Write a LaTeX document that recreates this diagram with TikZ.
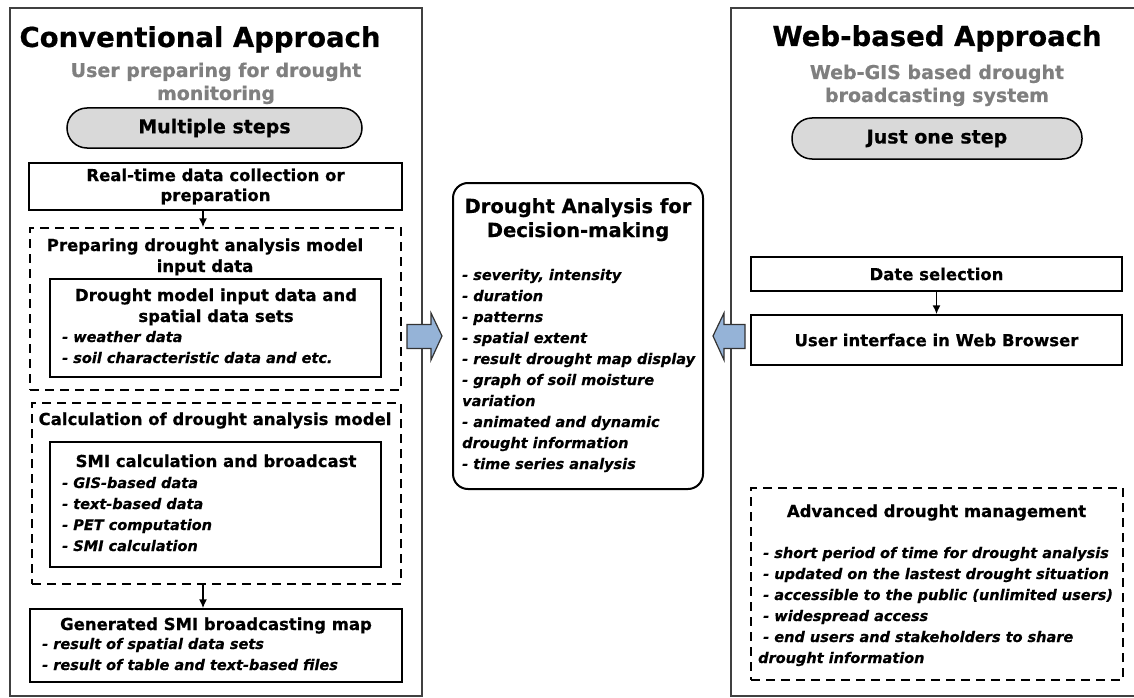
\documentclass[tikz,border=0pt]{standalone}
\usepackage{fontspec}
\setmainfont{DejaVu Sans}[BoldFeatures={FakeBold=0.6},BoldItalicFeatures={FakeBold=0.5}]
\usetikzlibrary{calc,arrows.meta,positioning}
\definecolor{subgray}{HTML}{7F7F7F}
\definecolor{pillgray}{HTML}{D9D9D9}
\definecolor{arrowblue}{HTML}{95B3D7}
\definecolor{framegray}{HTML}{404040}
\tikzset{
  panel/.style={draw=framegray, line width=1.3pt},
  box/.style={draw, line width=1.5pt, inner sep=0pt, font=\fontsize{16.5}{20}\selectfont\bfseries},
  dbox/.style={draw, line width=1.5pt, dash pattern=on 9pt off 6pt, inner sep=0pt},
  pill/.style={draw, line width=1.5pt, fill=pillgray, rounded corners=20pt, inner sep=0pt,
    font=\fontsize{19}{22}\selectfont\bfseries},
  midbox/.style={draw, line width=2pt, rounded corners=15pt, inner sep=0pt},
  ttl/.style={anchor=base, inner sep=0pt, font=\fontsize{27.5}{30}\selectfont\bfseries},
  sub/.style={anchor=base, inner sep=0pt, align=center, text=subgray,
    font=\fontsize{19}{23}\selectfont\bfseries},
  boxtxt/.style={anchor=base, inner sep=0pt, align=center, font=\fontsize{16.5}{21}\selectfont\bfseries},
  midtxt/.style={anchor=base, inner sep=0pt, align=center, font=\fontsize{19.5}{24}\selectfont\bfseries},
  items/.style={anchor=base west, inner sep=0pt, align=left,
    font=\fontsize{14.5}{21}\selectfont\bfseries\itshape},
  flow/.style={line width=1.5pt, -{Latex[length=9pt,width=8pt]}},
  blockarrow/.style={draw=black!80, line width=1.2pt, fill=arrowblue, line join=miter}
}
\begin{document}
\begin{tikzpicture}[x=1pt,y=-1pt]
  \useasboundingbox (0,0) rectangle (1134,698);

  % panels
  \draw[panel] (10,8) rectangle (422,696);
  \draw[panel] (1134,8) -- (731,8) -- (731,696) -- (1134,696);

  % conventional approach (base = last line)
  \node[ttl] (convT) at (200,47) {Conventional Approach};
  \node[sub] (convS) at (216,100) {User preparing for drought\\monitoring};
  \node[pill, minimum width=295pt, minimum height=40pt] (multi) at (214.5,128) {Multiple steps};
  \node[box, align=center, minimum width=373pt, minimum height=47pt] (collect) at (215.5,186.5)
    {Real-time data collection or\\preparation};

  \node[dbox, minimum width=371pt, minimum height=162pt] (prep) at (215.5,309) {};
  \node[boxtxt] (prepT) at (205,272) {Preparing drought analysis model\\input data};
  \node[box, minimum width=331pt, minimum height=98pt] (inputs) at (215.5,328) {};
  \node[boxtxt] (inputsT) at (216,322) {Drought model input data and\\spatial data sets};
  \node[items] (inputsL) at (62,363) {- weather data\\- soil characteristic data and etc.};

  \node[dbox, minimum width=369pt, minimum height=181pt] (calc) at (216.5,493.5) {};
  \node[boxtxt] (calcT) at (215,425) {Calculation of drought analysis model};
  \node[box, minimum width=331pt, minimum height=125pt] (smi) at (215.5,504.5) {};
  \node[boxtxt] (smiT) at (216,467) {SMI calculation and broadcast};
  \node[items] (smiL) at (62,551)
    {- GIS-based data\\- text-based data\\- PET computation\\- SMI calculation};

  \node[box, minimum width=372pt, minimum height=73pt] (map) at (216,645.5) {};
  \node[boxtxt] (mapT) at (216,630) {Generated SMI broadcasting map};
  \node[items] (mapL) at (42,670)
    {- result of spatial data sets\\- result of table and text-based files};

  \draw[flow] ([xshift=-12.5pt]collect.south) -- ([xshift=-12.5pt]collect.south |- prep.north);
  \draw[flow] ([xshift=-13.5pt]calc.south) -- ([xshift=-13.5pt]calc.south |- map.north);

  % drought analysis
  \node[midbox, minimum width=250pt, minimum height=306pt] (analysis) at (578,336) {};
  \node[midtxt] (analysisT) at (578,237) {Drought Analysis for\\Decision-making};
  \node[items] (analysisL) at (462,469)
    {- severity, intensity\\- duration\\- patterns\\- spatial extent\\
     - result drought map display\\- graph of soil moisture\\variation\\
     - animated and dynamic\\drought information\\- time series analysis};

  % web-based approach
  \node[ttl] (webT) at (937,46) {Web-based Approach};
  \node[sub] (webS) at (937,102) {Web-GIS based drought\\broadcasting system};
  \node[pill, minimum width=290pt, minimum height=41pt] (onestep) at (937,138.5) {Just one step};
  \node[box, minimum width=371pt, minimum height=34pt] (date) at (936.5,274) {Date selection};
  \node[box, minimum width=371pt, minimum height=50pt] (ui) at (936.5,340) {User interface in Web Browser};
  \draw[flow] (date) -- (ui);

  \node[dbox, minimum width=372pt, minimum height=192pt] (adv) at (937,584) {};
  \node[boxtxt] (advT) at (936.5,517) {Advanced drought management};
  \node[items] (advL) at (758,663)
    {\ - short period of time for drought analysis\\
     \ - updated on the lastest drought situation\\
     \ - accessible to the public (unlimited users)\\
     \ - widespread access\\
     \ - end users and stakeholders to share\\
     drought information};

  % block arrows into the analysis box
  \draw[blockarrow] ($(analysis.west)+(-45,-11.5)$) -- ++(24,0) -- ++(0,-11.5)
    -- ($(analysis.west)+(-10,0)$) -- ++(-11,24) -- ++(0,-11.5) -- ++(-24,0) -- cycle;
  \draw[blockarrow] ($(analysis.east)+(41,-11.5)$) -- ++(-21,0) -- ++(0,-11.5)
    -- ($(analysis.east)+(9,0)$) -- ++(11,24) -- ++(0,-11.5) -- ++(21,0) -- cycle;
\end{tikzpicture}
\end{document}
